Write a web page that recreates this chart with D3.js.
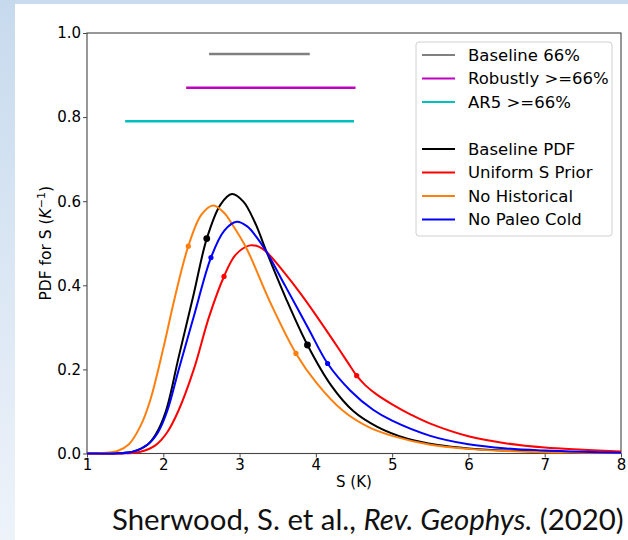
<!DOCTYPE html>
<html>
<head>
<meta charset="utf-8">
<script src="https://cdn.jsdelivr.net/npm/d3@7"></script>
<style>
  body { margin: 0; background: #fff; }
  svg { display: block; }
</style>
</head>
<body>
<svg id="chart"></svg>
<script>
// ---- data ----
const xTicks = [1, 2, 3, 4, 5, 6, 7, 8]
const yTicks = [0, 0.2, 0.4, 0.6, 0.8, 1.0]

const rangeNames = ["Baseline 66%", "Robustly >=66%", "AR5 >=66%"]
const rangeColors = ["#808080", "#bf00bf", "#00bfbf"]
const rangeLo = [2.6, 2.3, 1.5]
const rangeHi = [3.92, 4.52, 4.5]
const rangeLevel = [0.95, 0.87, 0.79]

const pdfNames = ["Baseline PDF", "Uniform S Prior", "No Historical", "No Paleo Cold"]
const pdfColors = ["#000000", "#ff0000", "#ff7f0e", "#0000ff"]

// [S, pdf]
const baselinePdf = [[1.0, 0], [1.4, 0.0005], [1.6, 0.004], [1.8, 0.022], [1.9, 0.045], [2.035, 0.101],
  [2.2, 0.228], [2.4, 0.38], [2.57, 0.511], [2.75, 0.592], [2.9, 0.617], [3.05, 0.599], [3.2, 0.55],
  [3.355, 0.479], [3.6, 0.372], [3.89, 0.258], [4.2, 0.162], [4.49, 0.101], [4.8, 0.064], [5.2, 0.035],
  [5.6, 0.02], [6.0, 0.012], [6.5, 0.007], [7.0, 0.004], [7.5, 0.002], [8.0, 0.001]]
const uniformPdf = [[1.0, 0], [1.5, 0.0005], [1.7, 0.004], [1.9, 0.02], [2.05, 0.05], [2.197, 0.101],
  [2.4, 0.2], [2.6, 0.325], [2.796, 0.421], [2.95, 0.473], [3.136, 0.495], [3.25, 0.492], [3.355, 0.479],
  [3.6, 0.427], [3.8, 0.38], [4.05, 0.316], [4.3, 0.249], [4.42, 0.216], [4.535, 0.185], [4.65, 0.162],
  [4.8, 0.14], [5.0, 0.117], [5.25, 0.092], [5.5, 0.071], [6.0, 0.041], [6.5, 0.024], [7.0, 0.014],
  [7.5, 0.009], [8.0, 0.005]]
const noHistPdf = [[1.0, 0], [1.2, 0.001], [1.4, 0.006], [1.55, 0.022], [1.7, 0.065], [1.826, 0.125],
  [2.0, 0.25], [2.15, 0.37], [2.328, 0.493], [2.5, 0.568], [2.655, 0.59], [2.8, 0.572], [2.896, 0.547],
  [3.093, 0.487], [3.4, 0.36], [3.739, 0.238], [4.0, 0.17], [4.36, 0.101], [4.7, 0.062], [5.0, 0.042],
  [5.5, 0.021], [6.0, 0.011], [6.5, 0.006], [7.0, 0.003], [7.5, 0.002], [8.0, 0.001]]
const noPaleoPdf = [[1.0, 0], [1.4, 0.0005], [1.6, 0.004], [1.8, 0.022], [1.93, 0.05], [2.052, 0.101],
  [2.2, 0.198], [2.4, 0.326], [2.625, 0.466], [2.8, 0.53], [2.962, 0.551], [3.1, 0.54], [3.2, 0.52],
  [3.355, 0.479], [3.6, 0.398], [3.9, 0.298], [4.154, 0.214], [4.45, 0.15], [4.75, 0.104], [5.0, 0.078],
  [5.5, 0.042], [6.0, 0.022], [6.5, 0.012], [7.0, 0.007], [7.5, 0.004], [8.0, 0.002]]

// 66% bounds marked on each curve
const baselineDots = [[2.57, 0.511], [3.89, 0.258]]
const uniformDots = [[2.796, 0.421], [4.535, 0.185]]
const noHistDots = [[2.328, 0.493], [3.739, 0.238]]
const noPaleoDots = [[2.625, 0.466], [4.154, 0.214]]

// ---- layout ----
const width = 628, height = 540
const margin = {left: 87, right: 7, top: 33, bottom: 87}
const font = "DejaVu Sans, sans-serif"

const svg = d3.select("#chart")
  .attr("width", width)
  .attr("height", height)

// slide background
const defs = svg.append("defs")
const grad = defs.append("linearGradient").attr("id", "side")
  .attr("x1", 0).attr("y1", 0).attr("x2", 0).attr("y2", 1)
grad.append("stop").attr("offset", "0%").attr("stop-color", "#c7daed")
grad.append("stop").attr("offset", "100%").attr("stop-color", "#eef3fa")

svg.append("rect").attr("width", width).attr("height", height).attr("fill", "#fff")
svg.append("rect").attr("width", width).attr("height", 4).attr("fill", "#c9dbee")
svg.append("rect").attr("width", 15).attr("height", height).attr("fill", "url(#side)")

const x = d3.scaleLinear().domain([1, 8]).range([margin.left, width - margin.right])
const y = d3.scaleLinear().domain([0, 1]).range([height - margin.bottom + 0.5, margin.top])

const g = svg.append("g")

// axes
const xAxis = g.append("g")
  .attr("transform", `translate(0,${y(0)})`)
  .call(d3.axisBottom(x).tickValues(xTicks).tickFormat(d3.format("d")).tickSizeOuter(0).tickSize(4).tickPadding(2))
const yAxis = g.append("g")
  .attr("transform", `translate(${x(1)},0)`)
  .call(d3.axisLeft(y).tickValues(yTicks).tickFormat(d3.format(".1f")).tickSizeOuter(0).tickSize(4).tickPadding(2))

;[xAxis, yAxis].forEach(a => {
  a.select(".domain").remove()
  a.selectAll("line").attr("stroke", "#333").attr("stroke-width", 0.9)
  a.selectAll("text").attr("font-family", font).attr("font-size", 15).attr("fill", "#000")
})

// plot frame
g.append("rect")
  .attr("x", x(1)).attr("y", y(1))
  .attr("width", x(8) - x(1)).attr("height", y(0) - y(1))
  .attr("fill", "none").attr("stroke", "#444").attr("stroke-width", 1.1)

// range bars
rangeNames.forEach((name, i) => {
  g.append("line")
    .attr("x1", x(rangeLo[i])).attr("x2", x(rangeHi[i]))
    .attr("y1", y(rangeLevel[i])).attr("y2", y(rangeLevel[i]))
    .attr("stroke", rangeColors[i]).attr("stroke-width", 2.5)
})

// pdf curves
const line = d3.line()
  .x(d => x(d[0]))
  .y(d => y(Math.max(0, d[1])))
  .curve(d3.curveCatmullRom.alpha(0.5))

const pdfSeries = [baselinePdf, uniformPdf, noHistPdf, noPaleoPdf]
const dotSeries = [baselineDots, uniformDots, noHistDots, noPaleoDots]

pdfSeries.forEach((data, i) => {
  g.append("path")
    .datum(data)
    .attr("d", line)
    .attr("fill", "none")
    .attr("stroke", pdfColors[i])
    .attr("stroke-width", 2)
    .attr("stroke-linejoin", "round")

  g.append("g")
    .selectAll("circle")
    .data(dotSeries[i])
    .enter().append("circle")
    .attr("cx", d => x(d[0]))
    .attr("cy", d => y(d[1]))
    .attr("r", i === 0 ? 3.4 : 2.6)
    .attr("fill", pdfColors[i])
})

// legend
const legendRows = rangeNames.map((n, i) => ({name: n, color: rangeColors[i]}))
  .concat([null])
  .concat(pdfNames.map((n, i) => ({name: n, color: pdfColors[i]})))

const legend = g.append("g").attr("transform", "translate(416,42)")
legend.append("rect")
  .attr("width", 196).attr("height", 194)
  .attr("rx", 3)
  .attr("fill", "#fff").attr("fill-opacity", 0.85)
  .attr("stroke", "#d0d0d0")

legendRows.forEach((row, i) => {
  if (!row) return
  const ry = 13 + i * 23.5
  legend.append("line")
    .attr("x1", 6).attr("x2", 39)
    .attr("y1", ry).attr("y2", ry)
    .attr("stroke", row.color).attr("stroke-width", 2)
  legend.append("text")
    .attr("x", 52).attr("y", ry)
    .attr("dy", "0.36em")
    .attr("font-family", font).attr("font-size", 16.5)
    .text(row.name)
})

// axis labels
g.append("text")
  .attr("x", (x(1) + x(8)) / 2).attr("y", 487)
  .attr("text-anchor", "middle")
  .attr("font-family", font).attr("font-size", 15)
  .text("S (K)")

const ylab = g.append("text")
  .attr("transform", `translate(51,${(y(0) + y(1)) / 2}) rotate(-90)`)
  .attr("text-anchor", "middle")
  .attr("font-family", font).attr("font-size", 15.5)
ylab.append("tspan").text("PDF for S (")
ylab.append("tspan").attr("font-style", "italic").text("K")
ylab.append("tspan").attr("font-size", 11).attr("dy", -6).text("−1")
ylab.append("tspan").attr("dy", 6).text(")")

// citation
const cite = svg.append("text")
  .attr("x", 112).attr("y", 530)
  .attr("font-family", "Lato, sans-serif").attr("font-size", 25)
  .attr("fill", "#111")
cite.append("tspan").text("Sherwood, S. et al., ")
cite.append("tspan").attr("font-style", "italic").text("Rev. Geophys.")
cite.append("tspan").text(" (2020)")
const w = cite.node().getComputedTextLength()
cite.attr("font-size", 25 * 512 / w)
</script>
</body>
</html>
